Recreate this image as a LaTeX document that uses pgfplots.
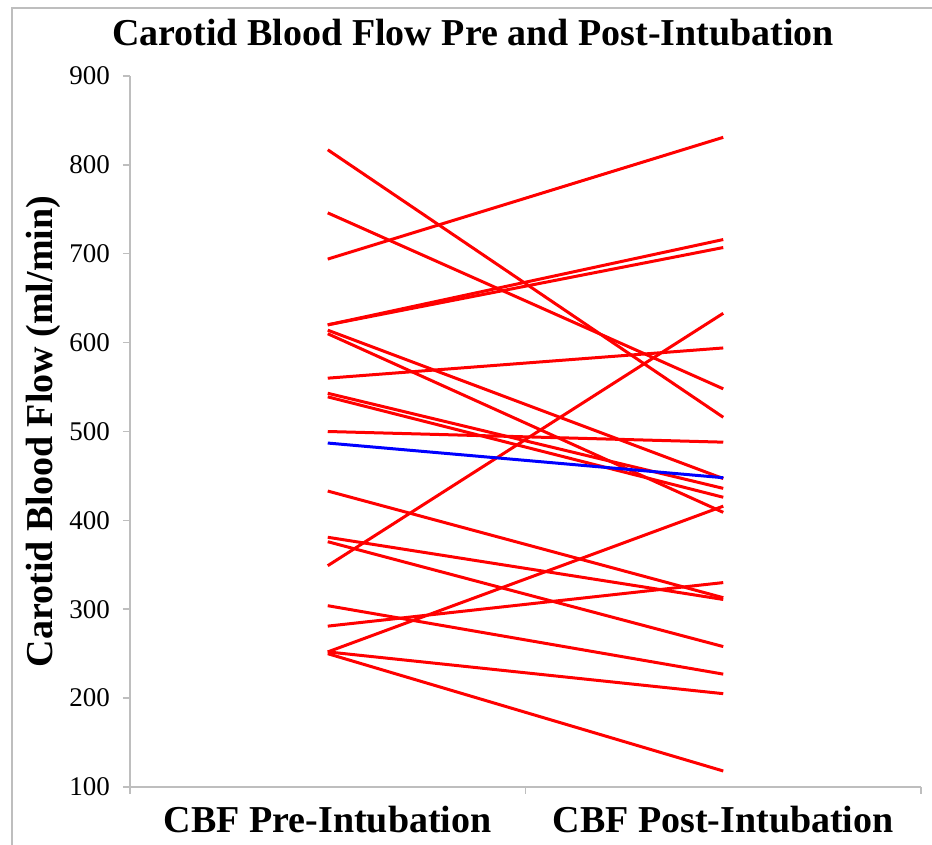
\documentclass[border=0pt]{standalone}
\usepackage{fontspec}
\setmainfont{Liberation Serif}
\usepackage{pgfplots}
\pgfplotsset{compat=1.18}
\definecolor{axgray}{RGB}{190,190,190}
\definecolor{lred}{RGB}{255,0,0}
\definecolor{lblue}{RGB}{0,0,255}
\begin{document}
\begin{tikzpicture}
\useasboundingbox (-65pt,-29pt) rectangle (401pt,393.5pt);
\draw[axgray, line width=0.6pt] (-59pt,-29pt) -- (-59pt,389.5pt) -- (401pt,389.5pt);
\begin{axis}[
  at={(0,0)}, anchor=south west,
  scale only axis, width=395.5pt, height=355.5pt,
  xmin=-0.5, xmax=1.5, ymin=100, ymax=900,
  axis x line*=bottom, axis y line*=left,
  axis line style={axgray, line width=0.75pt},
  tick style={axgray, line width=0.75pt},
  tick align=outside, major tick length=3.5pt,
  xtick={-0.5,0.5,1.5}, xticklabels={},
  extra x ticks={0,1},
  extra x tick labels={CBF Pre-Intubation, CBF Post-Intubation},
  extra x tick style={major tick length=0pt, tick style={draw=none},
     xticklabel style={font=\bfseries\fontsize{19}{19}\selectfont, anchor=base, yshift=-22.6pt}},
  ytick={100,200,...,900},
  yticklabel style={font=\fontsize{13.5}{13.5}\selectfont, anchor=east, xshift=-3pt},
  /pgf/number format/assume math mode=true,
  ylabel={Carotid Blood Flow (ml/min)},
  ylabel style={font=\bfseries\fontsize{19}{19}\selectfont, at={(axis description cs:0,0.5)}, anchor=base, yshift=38.5pt},
  every axis plot/.append style={line width=1.5pt, no markers},
]
\addplot[lred] coordinates {(0,817) (1,516)};
\addplot[lred] coordinates {(0,746) (1,548)};
\addplot[lred] coordinates {(0,694) (1,831)};
\addplot[lred] coordinates {(0,620) (1,716)};
\addplot[lred] coordinates {(0,620) (1,707)};
\addplot[lred] coordinates {(0,614) (1,447)};
\addplot[lred] coordinates {(0,610) (1,409)};
\addplot[lred] coordinates {(0,560) (1,594)};
\addplot[lred] coordinates {(0,543) (1,436)};
\addplot[lred] coordinates {(0,539) (1,426)};
\addplot[lred] coordinates {(0,500) (1,488)};
\addplot[lred] coordinates {(0,433) (1,313)};
\addplot[lred] coordinates {(0,381) (1,311)};
\addplot[lred] coordinates {(0,376) (1,258)};
\addplot[lred] coordinates {(0,349) (1,633)};
\addplot[lred] coordinates {(0,304) (1,227)};
\addplot[lred] coordinates {(0,281) (1,330)};
\addplot[lred] coordinates {(0,252) (1,416)};
\addplot[lred] coordinates {(0,252) (1,205)};
\addplot[lred] coordinates {(0,250) (1,118)};
\addplot[lblue] coordinates {(0,487) (1,448)};
\end{axis}
\node[anchor=base, font=\bfseries\fontsize{19}{19}\selectfont] at (171.5pt,370.5pt) {Carotid Blood Flow Pre and Post-Intubation};
\end{tikzpicture}
\end{document}
